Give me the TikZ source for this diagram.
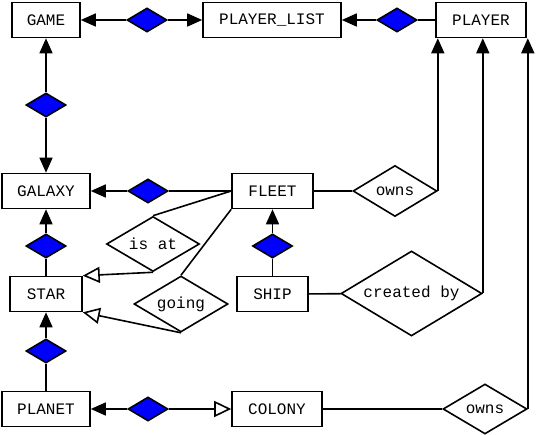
\documentclass[tikz,border=0pt]{standalone}
\usepackage{fontspec}
\setmonofont{Liberation Mono}
\usepackage{tikz}
\usetikzlibrary{shapes.geometric,arrows.meta}

\begin{document}
\begin{tikzpicture}[x=1pt, y=-1pt, line width=1.6pt,
  entity/.style={rectangle, draw, fill=white, inner sep=0pt, minimum height=35pt,
    font=\ttfamily\fontsize{16}{18}\selectfont},
  agg/.style={diamond, draw, fill=blue, inner sep=0pt, minimum width=40pt, minimum height=24pt},
  rel/.style={diamond, draw, fill=white, inner sep=0pt, aspect=1.66,
    font=\ttfamily\fontsize{16}{18}\selectfont},
  tip/.style={-{Triangle[length=15pt,width=13pt]}},
  opentip/.style={-{Triangle[open,length=17pt,width=16pt]}}]
  \useasboundingbox (0,0) rectangle (542,435);

  % Draw entities
  \node[entity, minimum width=68pt] (GAME) at (46, 20) {GAME};
  \node[entity, minimum width=138pt] (PLAYER_LIST) at (272, 20) {PLAYER\_LIST};
  \node[entity, minimum width=90pt] (PLAYER) at (481, 20) {PLAYER};
  \node[entity, minimum width=88pt] (GALAXY) at (46, 191) {GALAXY};
  \node[entity, minimum width=81pt] (FLEET) at (272.5, 191) {FLEET};
  \node[entity, minimum width=72pt] (STAR) at (46, 294) {STAR};
  \node[entity, minimum width=71pt] (SHIP) at (272.5, 294) {SHIP};
  \node[entity, minimum width=88pt] (PLANET) at (46, 409) {PLANET};
  \node[entity, minimum width=90pt] (COLONY) at (277, 409) {COLONY};

  % Draw aggregation diamonds
  \node[agg] (gp) at (147, 20) {};
  \node[agg] (lp) at (397, 20) {};
  \node[agg] (gg) at (46, 105) {};
  \node[agg] (gf) at (148, 191) {};
  \node[agg] (gs) at (46, 246) {};
  \node[agg] (fs) at (272.5, 246) {};
  \node[agg] (sp) at (46, 351) {};
  \node[agg] (pc) at (148, 409) {};

  % Draw relationships
  \node[rel, minimum width=93pt, minimum height=55pt] (isat) at (153, 244) {is at};
  \node[rel, minimum width=94pt, minimum height=56pt] (going) at (181, 304) {going};
  \node[rel, minimum width=84pt, minimum height=51pt] (owns1) at (395, 191) {owns};
  \node[rel, minimum width=141pt, minimum height=85pt] (created) at (411.5, 293.5) {created by};
  \node[rel, minimum width=84pt, minimum height=50pt] (owns2) at (485, 409) {owns};

  % Draw edges
  \draw[tip] (gp) -- (GAME);
  \draw[tip] (gp) -- (PLAYER_LIST);
  \draw[tip] (lp) -- (PLAYER_LIST);
  \draw (lp) -- (PLAYER);
  \draw[tip] (gg) -- (GAME);
  \draw[tip] (gg) -- (GALAXY);
  \draw[tip] (gf) -- (GALAXY);
  \draw (gf) -- (FLEET);
  \draw[tip] (gs) -- (GALAXY);
  \draw (gs) -- (STAR);
  \draw[tip] (fs) -- (FLEET);
  \draw (fs) -- (SHIP);
  \draw[tip] (sp) -- (STAR);
  \draw (sp) -- (PLANET);
  \draw[tip] (pc) -- (PLANET);
  \draw[opentip] (pc) -- (COLONY);
  \draw (FLEET.west) -- (isat.north);
  \draw[opentip] (isat.south) -- (STAR.north east);
  \draw (FLEET.south west) -- (going.north);
  \draw[opentip] (going.south) -- (STAR.south east);
  \draw (FLEET) -- (owns1);
  \draw[tip] (owns1.east) -- (owns1.east |- PLAYER.south);
  \draw (SHIP) -- (created);
  \draw[tip] (created.east) -- (created.east |- PLAYER.south);
  \draw (COLONY) -- (owns2);
  \draw[tip] (owns2.east) -- (owns2.east |- PLAYER.south);
\end{tikzpicture}
\end{document}
